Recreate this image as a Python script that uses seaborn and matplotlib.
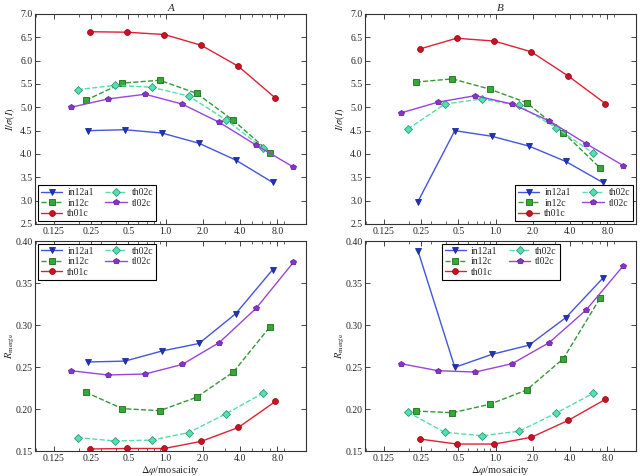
import numpy as np
import matplotlib
matplotlib.use("Agg")
import matplotlib.pyplot as plt
import matplotlib.ticker as mticker
import seaborn as sns

# x positions (delta phi / mosaicity), same for both crystals
x_in12a1 = [0.235, 0.467, 0.93, 1.86, 3.69, 7.35]
x_in12c = [0.225, 0.447, 0.895, 1.78, 3.53, 7.0]
x_th01c = [0.243, 0.483, 0.976, 1.94, 3.87, 7.72]
x_th02c = [0.194, 0.387, 0.775, 1.54, 3.09, 6.15]
x_tl02c = [0.171, 0.341, 0.683, 1.36, 2.71, 5.4, 10.8]

# I/sigma(I), crystal A
isig_A_in12a1 = [4.50, 4.52, 4.45, 4.23, 3.87, 3.39]
isig_A_in12c = [5.15, 5.52, 5.58, 5.30, 4.72, 4.03]
isig_A_th01c = [6.62, 6.61, 6.56, 6.33, 5.88, 5.20]
isig_A_th02c = [5.38, 5.47, 5.43, 5.24, 4.73, 4.12]
isig_A_tl02c = [5.00, 5.18, 5.28, 5.07, 4.68, 4.19, 3.72]

# I/sigma(I), crystal B
isig_B_in12a1 = [2.98, 4.50, 4.38, 4.17, 3.84, 3.39]
isig_B_in12c = [5.54, 5.61, 5.39, 5.10, 4.46, 3.70]
isig_B_th01c = [6.25, 6.48, 6.42, 6.19, 5.67, 5.08]
isig_B_th02c = [4.53, 5.07, 5.18, 5.04, 4.56, 4.02]
isig_B_tl02c = [4.88, 5.11, 5.25, 5.07, 4.71, 4.22, 3.75]

# R_merge, crystal A
rm_A_in12a1 = [0.256, 0.257, 0.269, 0.278, 0.3135, 0.366]
rm_A_in12c = [0.220, 0.2004, 0.198, 0.214, 0.244, 0.298]
rm_A_th01c = [0.1524, 0.153, 0.153, 0.1615, 0.178, 0.209]
rm_A_th02c = [0.166, 0.162, 0.163, 0.172, 0.1945, 0.219]
rm_A_tl02c = [0.2456, 0.2405, 0.2417, 0.253, 0.279, 0.320, 0.3746]

# R_merge, crystal B
rm_B_in12a1 = [0.3885, 0.2496, 0.265, 0.276, 0.3087, 0.3556]
rm_B_in12c = [0.1976, 0.1956, 0.2056, 0.2226, 0.260, 0.332]
rm_B_th01c = [0.1643, 0.1583, 0.1583, 0.1663, 0.1865, 0.2115]
rm_B_th02c = [0.1964, 0.1722, 0.1683, 0.1734, 0.1952, 0.2187]
rm_B_tl02c = [0.254, 0.2456, 0.244, 0.254, 0.279, 0.318, 0.3706]

xticks = [0.125, 0.25, 0.5, 1.0, 2.0, 4.0, 8.0]
xticklabels = ["0.125", "0.25", "0.5", "1.0", "2.0", "4.0", "8.0"]

sns.set_style("ticks")
plt.rcParams["font.family"] = ["Liberation Serif", "DejaVu Serif"]
plt.rcParams["mathtext.fontset"] = "stix"
plt.rcParams["xtick.direction"] = "in"
plt.rcParams["ytick.direction"] = "in"
plt.rcParams["xtick.top"] = True
plt.rcParams["ytick.right"] = True
plt.rcParams["axes.edgecolor"] = "#333333"

# series style: label, marker, line colour, face colour, edge colour, linestyle
styles = [
    ("in12a1", "v", "#4455dd", "#2233bb", "#1a2a99", "-"),
    ("in12c", "s", "#339933", "#33aa33", "#1f6b1f", "--"),
    ("th01c", "o", "#dd2233", "#cc1122", "#99101a", "-"),
    ("th02c", "D", "#55ddaa", "#55e0b0", "#2a9a78", "--"),
    ("tl02c", "p", "#9944dd", "#8833cc", "#6a22a0", "-"),
]
xs = [x_in12a1, x_in12c, x_th01c, x_th02c, x_tl02c]

fig, axes = plt.subplots(2, 2, figsize=(6.4, 4.76), dpi=100)
plt.subplots_adjust(left=0.055, right=0.994, top=0.9706, bottom=0.0525,
                    wspace=0.218, hspace=0.081)

panels = [
    (axes[0, 0], [isig_A_in12a1, isig_A_in12c, isig_A_th01c, isig_A_th02c, isig_A_tl02c], "lower left"),
    (axes[0, 1], [isig_B_in12a1, isig_B_in12c, isig_B_th01c, isig_B_th02c, isig_B_tl02c], "lower right"),
    (axes[1, 0], [rm_A_in12a1, rm_A_in12c, rm_A_th01c, rm_A_th02c, rm_A_tl02c], "upper left"),
    (axes[1, 1], [rm_B_in12a1, rm_B_in12c, rm_B_th01c, rm_B_th02c, rm_B_tl02c], "upper center"),
]

for i, (ax, ys, loc) in enumerate(panels):
    for (lab, mk, lc, fc, ec, ls), x, y in zip(styles, xs, ys):
        sns.lineplot(x=x, y=y, ax=ax, label=lab, color=lc, linestyle=ls,
                     linewidth=1.0, marker=mk, markersize=4.2,
                     markerfacecolor=fc, markeredgecolor=ec,
                     markeredgewidth=0.6, sort=False)
    ax.set_xscale("log")
    ax.set_xlim(0.088, 13.7)
    ax.xaxis.set_major_locator(mticker.FixedLocator(xticks))
    ax.xaxis.set_major_formatter(mticker.FixedFormatter(xticklabels))
    ax.xaxis.set_minor_formatter(mticker.NullFormatter())
    ax.tick_params(which="major", length=3.5, width=0.6, labelsize=7, pad=2)
    ax.tick_params(which="minor", length=2, width=0.5)
    for sp in ax.spines.values():
        sp.set_linewidth(0.8)
    if i < 2:
        ax.set_ylim(2.5, 7.0)
        ax.yaxis.set_major_locator(mticker.MultipleLocator(0.5))
        ax.yaxis.set_major_formatter(mticker.FormatStrFormatter("%.1f"))
        ax.set_ylabel(r"$I/\sigma(I)$", fontsize=7.5)
        ax.set_title("A" if i == 0 else "B", style="italic", fontsize=8, pad=2)
        ax.set_xlabel("")
    else:
        ax.set_ylim(0.15, 0.40)
        ax.yaxis.set_major_locator(mticker.MultipleLocator(0.05))
        ax.yaxis.set_major_formatter(mticker.FormatStrFormatter("%.2f"))
        ax.set_ylabel(r"$R_{\mathrm{merge}}$", fontsize=7.5)
        ax.set_xlabel(r"$\Delta\varphi$/mosaicity", fontsize=7.5)
        ax.xaxis.set_label_coords(0.5, -0.062)
    ax.yaxis.set_label_coords(-0.066, 0.5)
    leg = ax.legend(loc=loc, ncol=2, fontsize=7, frameon=True, fancybox=False,
                    framealpha=1, edgecolor="black", borderaxespad=0.3,
                    labelspacing=0.15, borderpad=0.3, columnspacing=1.2,
                    handletextpad=0.5, handlelength=2.2)
    leg.get_frame().set_linewidth(0.8)

plt.savefig("out.png", dpi=100)
